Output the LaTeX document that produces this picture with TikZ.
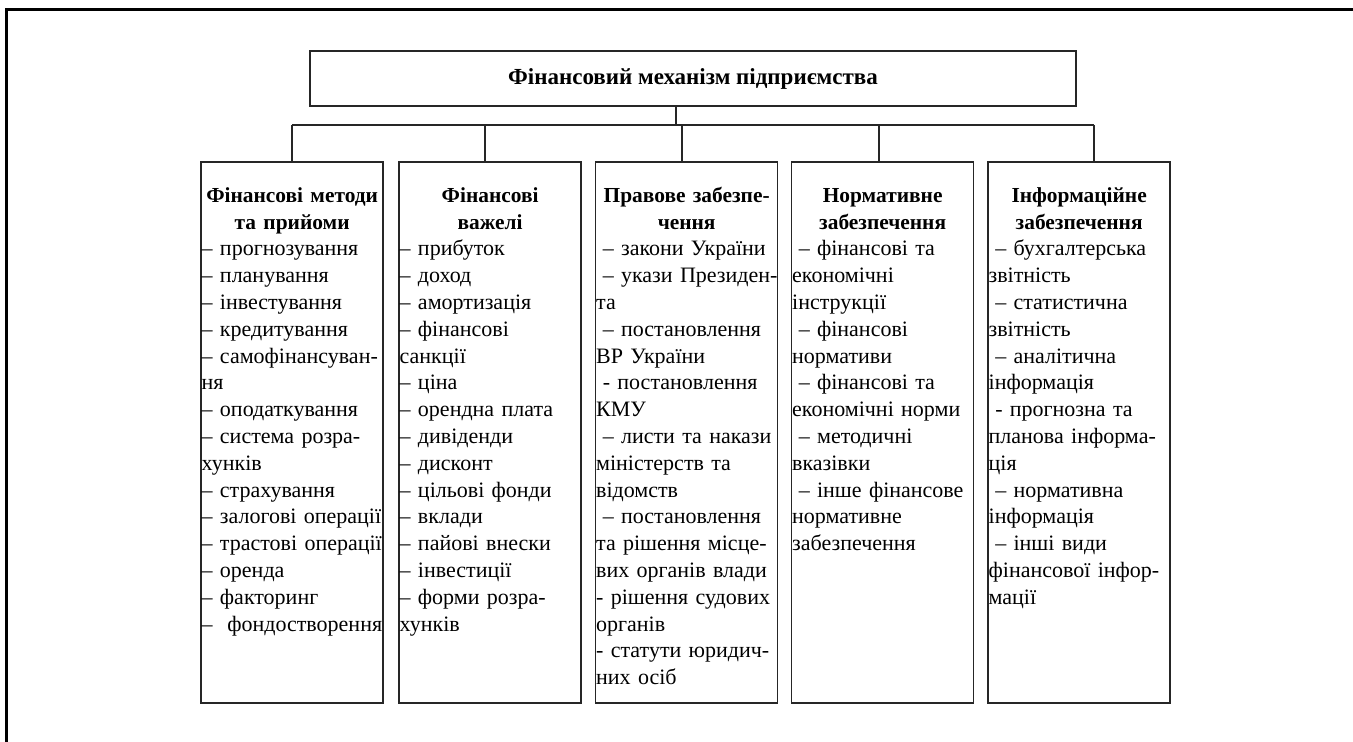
\documentclass[tikz,border=0pt]{standalone}
\usepackage{fontspec}
\setmainfont{Liberation Serif}
\newcommand\ind{\hspace*{0.3em}}
\newcommand\hd[1]{\makebox[90.5pt][c]{\fontsize{10.7}{13.4}\selectfont\bfseries #1}}
\tikzset{
  frame/.style={line width=1.5pt, black},
  box/.style={draw=black!85, line width=0.75pt, inner sep=0pt, minimum width=91pt, minimum height=270.5pt},
  txt/.style={anchor=base west, inner sep=0pt, text width=120pt, align=left,
              font=\fontsize{11}{13.4}\selectfont},
  conn/.style={draw=black!85, line width=0.75pt}
}
\begin{document}
\begin{tikzpicture}[x=0.5pt,y=-0.5pt]
\useasboundingbox (0,0) rectangle (1353,742);
% page frame: left and top rules
\draw[frame] (6.5,742) -- (6.5,9.5) -- (1353,9.5);

% title
\node[box, minimum width=383pt, minimum height=27.5pt,
      font=\bfseries\fontsize{11.5}{14}\selectfont] (top) at (693,78.5)
      {Фінансовий механізм підприємства};

% branch boxes
\node[box] (b1) at (292,432.5) {};
\node[box] (b2) at (490,432.5) {};
\node[box] (b3) at (686.5,432.5) {};
\node[box] (b4) at (882.5,432.5) {};
\node[box] (b5) at (1079,432.5) {};

% connector bus
\coordinate (jt) at (676,125);
\coordinate (j1) at (292,125);
\coordinate (j2) at (485,125);
\coordinate (j3) at (682,125);
\coordinate (j4) at (879,125);
\coordinate (j5) at (1094,125);
\draw[conn] (top.south -| jt) -- (jt);
\draw[conn] (j1) -- (j5);
\draw[conn] (j1) -- (j1 |- b1.north);
\draw[conn] (j2) -- (j2 |- b2.north);
\draw[conn] (j3) -- (j3 |- b3.north);
\draw[conn] (j4) -- (j4 |- b4.north);
\draw[conn] (j5) -- (j5 |- b5.north);

% box contents
\node[txt] (t1) at ([xshift=0.5pt,yshift=-20.5pt]b1.north west) {%
\hd{Фінансові методи}\\
\hd{та прийоми}\\
– прогнозування\\
– планування\\
– інвестування\\
– кредитування\\
– самофінансуван-\\
ня\\
– оподаткування\\
– система розра-\\
хунків\\
– страхування\\
– залогові операції\\
– трастові операції\\
– оренда\\
– факторинг\\
–\ \ фондостворення};

\node[txt] (t2) at ([xshift=0.5pt,yshift=-20.5pt]b2.north west) {%
\hd{Фінансові}\\
\hd{важелі}\\
– прибуток\\
– доход\\
– амортизація\\
– фінансові\\
санкції\\
– ціна\\
– орендна плата\\
– дивіденди\\
– дисконт\\
– цільові фонди\\
– вклади\\
– пайові внески\\
– інвестиції\\
– форми розра-\\
хунків};

\node[txt] (t3) at ([xshift=0.5pt,yshift=-20.5pt]b3.north west) {%
\hd{Правове забезпе-}\\
\hd{чення}\\
\ind– закони України\\
\ind– укази Президен-\\
та\\
\ind– постановлення\\
ВР України\\
\ind- постановлення\\
КМУ\\
\ind– листи та накази\\
міністерств та\\
відомств\\
\ind– постановлення\\
та рішення місце-\\
вих органів влади\\
- рішення судових\\
органів\\
- статути юридич-\\
них осіб};

\node[txt] (t4) at ([xshift=0.5pt,yshift=-20.5pt]b4.north west) {%
\hd{Нормативне}\\
\hd{забезпечення}\\
\ind– фінансові та\\
економічні\\
інструкції\\
\ind– фінансові\\
нормативи\\
\ind– фінансові та\\
економічні норми\\
\ind– методичні\\
вказівки\\
\ind– інше фінансове\\
нормативне\\
забезпечення};

\node[txt] (t5) at ([xshift=0.5pt,yshift=-20.5pt]b5.north west) {%
\hd{Інформаційне}\\
\hd{забезпечення}\\
\ind– бухгалтерська\\
звітність\\
\ind– статистична\\
звітність\\
\ind– аналітична\\
інформація\\
\ind- прогнозна та\\
планова інформа-\\
ція\\
\ind– нормативна\\
інформація\\
\ind– інші види\\
фінансової інфор-\\
мації};
\end{tikzpicture}
\end{document}
